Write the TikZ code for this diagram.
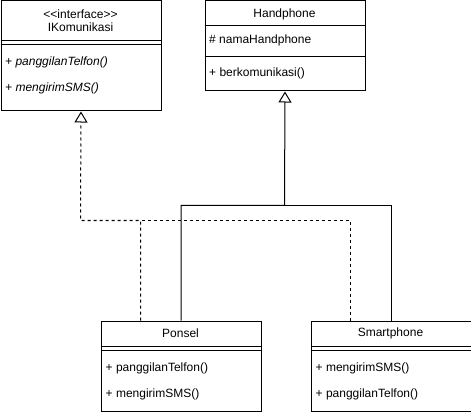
\documentclass[tikz,border=0pt]{standalone}
\usepackage{fontspec}
\setmainfont{Liberation Sans}
\usetikzlibrary{positioning, calc, arrows.meta}

\tikzset{
  classbox/.style={draw, line width=1pt, minimum width=160pt, inner sep=0pt, anchor=north west},
  title/.style={inner sep=0pt, font=\fontsize{12}{14}\selectfont},
  member/.style={anchor=west, inner sep=0pt, font=\fontsize{12}{14}\selectfont},
  sepline/.style={line width=1pt},
  inherit/.style={line width=1pt, -{Triangle[open,length=11pt,width=13pt]}},
  realize/.style={line width=1pt, dash pattern=on 3pt off 3pt},
}

\begin{document}
\begin{tikzpicture}[x=1pt,y=-1pt]
  \useasboundingbox (0,0) rectangle (471,414);
  % IKomunikasi
  \node[classbox, minimum height=110pt] (ikom) at (0.5,0.5) {};
  \node[title] (ikomst) at (80.5,14.3) {<\kern0pt<interface>\kern0pt>};
  \node[title] (ikomname) at (80.5,27.7) {IKomunikasi};
  \draw[sepline] ($(ikom.north west)+(0,40)$) -- ($(ikom.north east)+(0,40)$);
  \draw[sepline] ($(ikom.north west)+(0,44)$) -- ($(ikom.north east)+(0,44)$);
  \node[member] (ikomm1) at (5,62) {\itshape + panggilanTelfon()};
  \node[member] (ikomm2) at (5,88) {\itshape + mengirimSMS()};
  % Handphone
  \node[classbox, minimum height=90pt] (hand) at (204.5,0.5) {};
  \node[title] (handname) at (284.5,14) {Handphone};
  \draw[sepline] ($(hand.north west)+(0,25)$) -- ($(hand.north east)+(0,25)$);
  \node[member] (handa1) at (209,40) {\# namaHandphone};
  \draw[sepline] ($(hand.north west)+(0,56.5)$) -- ($(hand.north east)+(0,56.5)$);
  \node[member] (handm1) at (209,73) {+ berkomunikasi()};
  % Ponsel
  \node[classbox, minimum height=90pt] (pon) at (100.5,320.5) {};
  \node[title] (ponname) at (180.5,333.3) {Ponsel};
  \draw[sepline] ($(pon.north west)+(0,26)$) -- ($(pon.north east)+(0,26)$);
  \draw[sepline] ($(pon.north west)+(0,30)$) -- ($(pon.north east)+(0,30)$);
  \node[member] (ponm1) at (105.5,368.3) {+ panggilanTelfon()};
  \node[member] (ponm2) at (105.5,394.3) {+ mengirimSMS()};
  % Smartphone
  \node[classbox, minimum height=90pt] (smart) at (310.5,320.5) {};
  \node[title] (smartname) at (390.5,333.3) {Smartphone};
  \draw[sepline] ($(smart.north west)+(0,26)$) -- ($(smart.north east)+(0,26)$);
  \draw[sepline] ($(smart.north west)+(0,30)$) -- ($(smart.north east)+(0,30)$);
  \node[member] (smartm1) at (315.5,368.3) {+ mengirimSMS()};
  \node[member] (smartm2) at (315.5,394.3) {+ panggilanTelfon()};
  % generalisasi
  \coordinate (hj) at (284.5,205.5);
  \draw[inherit] (pon.north) |- (hj) -- (hand.south);
  \draw[line width=1pt] (smart.north) |- (hj);
  % realisasi
  \coordinate (ij) at (80.5,220.5);
  \coordinate (pd) at ($(pon.north west)+(40,0)$);
  \coordinate (sd) at ($(smart.north west)+(40,0)$);
  \draw[inherit, realize] (pd) |- (ij) -- (ikom.south);
  \draw[realize] (sd) |- (pd |- ij);
\end{tikzpicture}
\end{document}
